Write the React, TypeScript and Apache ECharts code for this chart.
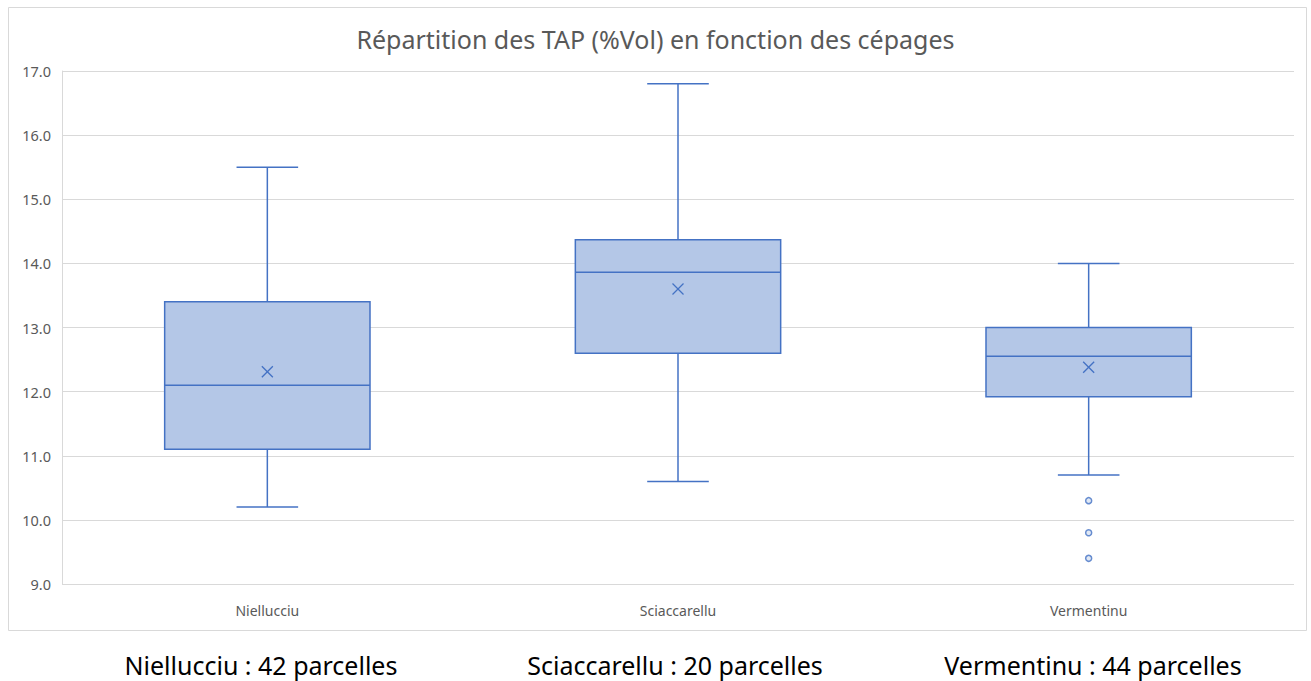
import React, { useEffect, useRef } from "react";
import * as echarts from "echarts";

const categories = ["Niellucciu", "Sciaccarellu", "Vermentinu"];
// [min whisker, Q1, median, Q3, max whisker]
const boxStats = [
  [10.2, 11.1, 12.1, 13.4, 15.5],
  [10.6, 12.6, 13.86, 14.37, 16.8],
  [10.7, 11.92, 12.55, 13.0, 14.0],
];
const means = [12.31, 13.6, 12.38];
const outliers: [string, number][] = [
  ["Vermentinu", 10.3],
  ["Vermentinu", 9.8],
  ["Vermentinu", 9.4],
];
const footerLabels = [
  "Niellucciu : 42 parcelles",
  "Sciaccarellu : 20 parcelles",
  "Vermentinu : 44 parcelles",
];
const titleText = "Répartition des TAP (%Vol) en fonction des cépages";

const BLUE = "#4472c4";
const FILL = "#b4c7e7";
const FONT = "'Noto Sans', 'Open Sans', sans-serif";

export default function App() {
  const ref = useRef<HTMLDivElement>(null);
  useEffect(() => {
    if (!ref.current) return;
    const chart = echarts.init(ref.current, undefined, { renderer: "svg" });
    const customData = boxStats.map((s, i) => [i, ...s, means[i]]);
    const option: any = {
      animation: false,
      backgroundColor: "#ffffff",
      title: {
        text: titleText,
        left: "center",
        top: 21,
        textStyle: { fontFamily: FONT, fontSize: 25, fontWeight: "normal", color: "#595959" },
      },
      grid: { left: 62, right: 17, top: 71, bottom: 97 },
      xAxis: {
        type: "category",
        data: categories,
        boundaryGap: true,
        axisLine: { show: false },
        axisTick: { show: false },
        axisLabel: { fontFamily: FONT, fontSize: 14, color: "#595959", margin: 19 },
        splitLine: { show: false },
      },
      yAxis: {
        type: "value",
        min: 9,
        max: 17,
        interval: 1,
        axisLine: { show: true, lineStyle: { color: "#d9d9d9", width: 1 } },
        axisTick: { show: false },
        axisLabel: {
          fontFamily: FONT,
          fontSize: 14.5,
          color: "#595959",
          margin: 11,
          formatter: (v: number) => v.toFixed(1),
        },
        splitLine: { show: true, lineStyle: { color: "#d9d9d9", width: 1 } },
      },
      series: [
        {
          type: "custom",
          data: customData,
          encode: { x: 0, y: [1, 2, 3, 4, 5, 6] },
          renderItem: (params: any, api: any) => {
            const xi = api.value(0);
            const pt = (v: number) => api.coord([xi, v]);
            const [cx, yMin] = pt(api.value(1));
            const yQ1 = pt(api.value(2))[1];
            const yMed = pt(api.value(3))[1];
            const yQ3 = pt(api.value(4))[1];
            const yMax = pt(api.value(5))[1];
            const yMean = pt(api.value(6))[1];
            const w = api.size([1, 0])[0];
            const bw = w * 0.5;
            const cw = w * 0.15;
            const ls = { stroke: BLUE, lineWidth: 1.5 };
            const m = 5.5;
            return {
              type: "group",
              children: [
                { type: "line", shape: { x1: cx, y1: yMax, x2: cx, y2: yQ3 }, style: ls },
                { type: "line", shape: { x1: cx, y1: yQ1, x2: cx, y2: yMin }, style: ls },
                { type: "line", shape: { x1: cx - cw / 2, y1: yMax, x2: cx + cw / 2, y2: yMax }, style: ls },
                { type: "line", shape: { x1: cx - cw / 2, y1: yMin, x2: cx + cw / 2, y2: yMin }, style: ls },
                {
                  type: "rect",
                  shape: { x: cx - bw / 2, y: yQ3, width: bw, height: yQ1 - yQ3 },
                  style: { fill: FILL, stroke: BLUE, lineWidth: 1.5 },
                },
                { type: "line", shape: { x1: cx - bw / 2, y1: yMed, x2: cx + bw / 2, y2: yMed }, style: ls },
                { type: "line", shape: { x1: cx - m, y1: yMean - m, x2: cx + m, y2: yMean + m }, style: { stroke: BLUE, lineWidth: 1.3 } },
                { type: "line", shape: { x1: cx - m, y1: yMean + m, x2: cx + m, y2: yMean - m }, style: { stroke: BLUE, lineWidth: 1.3 } },
              ],
            };
          },
        },
        {
          type: "scatter",
          data: outliers,
          symbol: "circle",
          symbolSize: 6,
          itemStyle: { color: "#dae3f3", borderColor: BLUE, borderWidth: 1.5 },
        },
      ],
      graphic: [
        {
          type: "rect",
          shape: { x: 8.5, y: 7.5, width: 1298, height: 623 },
          style: { fill: "none", stroke: "#d9d9d9", lineWidth: 1 },
          silent: true,
          z: -1,
        },
        ...footerLabels.map((t, i) => ({
          type: "text",
          x: [261, 675, 1093][i],
          y: 665,
          style: {
            text: t,
            fontFamily: FONT,
            fontSize: 25,
            fill: "#000000",
            textAlign: "center",
            textVerticalAlign: "middle",
          },
        })),
      ],
    };
    chart.setOption(option);
    return () => chart.dispose();
  }, []);
  return (
    <div
      ref={ref}
      style={{ position: "fixed", left: 0, top: 0, width: 1311, height: 681, background: "#fff" }}
    />
  );
}
